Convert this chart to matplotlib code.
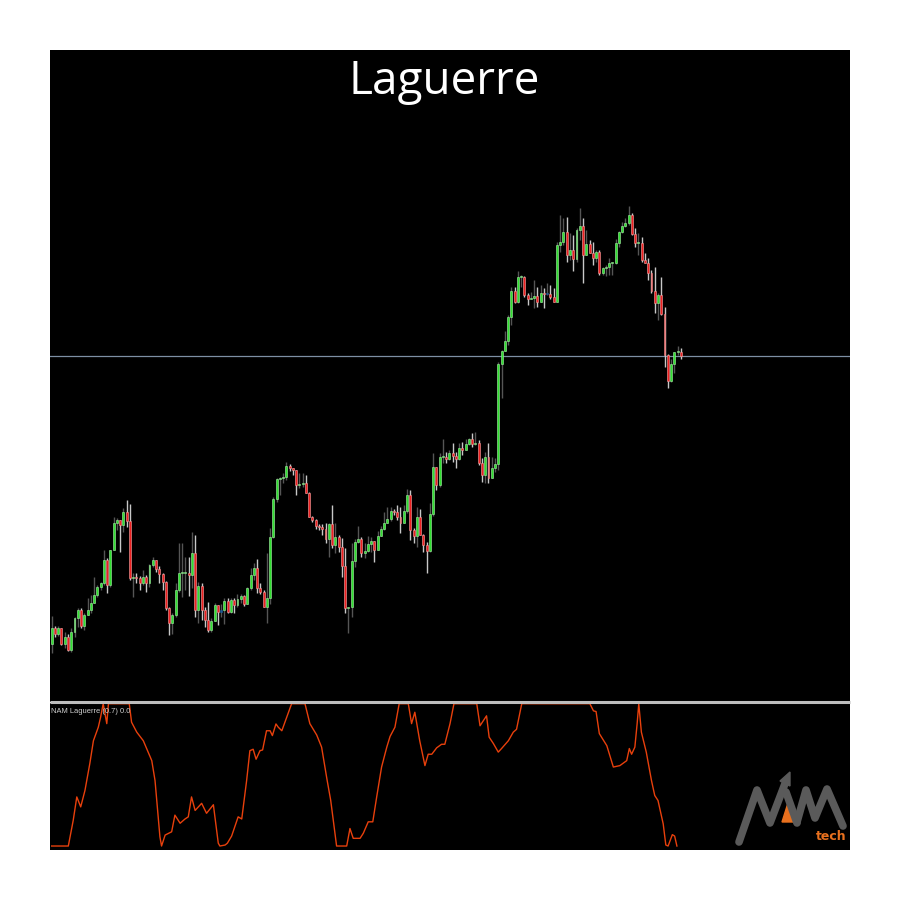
import numpy as np
import matplotlib
matplotlib.use("Agg")
import matplotlib.pyplot as plt
from matplotlib.patches import Polygon

# price data in points, one value per bar
first_open = 56
closes = [72, 66, 72, 56, 63, 50, 68, 82, 90, 74, 85, 90, 97, 105, 113, 117, 140, 115, 150, 177,
          180, 175, 188, 179, 122, 123, 122, 117, 123, 117, 135, 140, 131, 126, 118, 92, 77, 85, 110, 127,
          127, 127, 125, 147, 90, 114, 90, 80, 70, 79, 95, 88, 90, 99, 88, 100, 95, 101, 104, 96,
          112, 125, 132, 112, 108, 93, 102, 163, 201, 221, 222, 223, 234, 232, 230, 215, 216, 217, 207,
          183, 180, 174, 173, 171, 161, 176, 155, 163, 153, 134, 92, 93, 139, 158, 161, 147, 149, 156, 159,
          150, 164, 171, 177, 181, 189, 188, 183, 177, 189, 205, 170, 164, 183, 165, 155, 149, 186,
          233, 215, 243, 243, 241, 247, 244, 241, 252, 250, 256, 261, 256, 257, 237, 225, 243, 222, 232, 236,
          336, 349, 359, 383, 409, 398, 423, 423, 405, 401, 402, 404, 398, 407, 406, 406, 403, 398,
          455, 458, 468, 445, 450, 441, 470, 474, 445, 456, 447, 442, 448, 427, 432, 433, 437, 437, 457, 468,
          474, 477, 485, 466, 457, 457, 440, 437, 427, 409, 397, 405, 386, 345, 319, 336, 348, 348, 344]
highs = [84, 74, 74, 67, 68, 66, 72, 83, 92, 92, 87, 102, 105, 123, 115, 118, 150, 142, 150, 183,
         182, 178, 192, 200, 196, 127, 127, 124, 130, 125, 136, 143, 140, 134, 127, 119, 93, 87, 117, 157,
         157, 143, 143, 168, 165, 118, 117, 93, 98, 82, 97, 93, 96, 102, 102, 102, 102, 106, 106, 105,
         113, 132, 137, 141, 117, 110, 147, 172, 203, 222, 223, 227, 238, 236, 232, 229, 227, 227, 225,
         208, 184, 181, 176, 176, 177, 177, 195, 177, 165, 162, 152, 93, 157, 161, 174, 163, 157, 164, 163,
         158, 169, 174, 188, 193, 193, 191, 195, 193, 195, 211, 210, 172, 193, 191, 166, 158, 197,
         247, 233, 247, 261, 248, 250, 257, 248, 257, 258, 261, 262, 267, 268, 260, 242, 248, 257, 243, 242,
         338, 350, 369, 385, 413, 413, 429, 425, 424, 407, 408, 420, 413, 415, 412, 417, 415, 412,
         458, 485, 482, 483, 467, 465, 472, 492, 482, 470, 460, 458, 450, 450, 433, 435, 442, 438, 461, 469,
         478, 482, 494, 487, 472, 467, 463, 447, 442, 430, 433, 407, 423, 393, 346, 341, 348, 354, 352]
lows = [47, 63, 64, 55, 52, 49, 48, 63, 73, 72, 70, 88, 87, 97, 103, 110, 115, 107, 113, 150,
        170, 148, 168, 173, 120, 103, 117, 110, 115, 108, 113, 133, 128, 117, 110, 90, 65, 66, 83, 108,
        103, 110, 104, 112, 83, 77, 80, 73, 68, 68, 80, 75, 83, 76, 87, 87, 87, 93, 97, 94,
        97, 110, 120, 107, 106, 95, 77, 96, 162, 198, 205, 217, 220, 229, 225, 205, 212, 213, 207,
        183, 178, 171, 170, 165, 157, 143, 152, 147, 148, 123, 87, 67, 83, 133, 157, 143, 142, 148, 148,
        138, 153, 165, 170, 178, 179, 185, 180, 167, 177, 187, 160, 157, 153, 165, 148, 127, 148,
        184, 210, 213, 237, 237, 240, 238, 232, 240, 245, 250, 255, 253, 255, 235, 218, 217, 217, 222, 228,
        230, 302, 353, 355, 375, 397, 397, 413, 403, 395, 401, 392, 393, 398, 392, 405, 401, 398,
        398, 448, 455, 438, 440, 429, 438, 460, 417, 445, 447, 435, 438, 425, 425, 424, 425, 425, 436, 453,
        467, 473, 475, 465, 453, 445, 438, 437, 420, 407, 387, 380, 385, 333, 312, 318, 327, 345, 341]
blue_bars = [52, 152]
last_price = 344

# NAM Laguerre (0.7) readings: bar index and value
lag_bar = [0, 5.1, 6.6, 7.7, 8.9, 10.2, 11.7, 12.8, 14.3, 15.0, 15.8, 16.9, 17.4, 23.8, 24.5, 26.1,
           28.1, 30.7, 31.7, 33.2, 33.7, 34.8, 36.8, 37.8, 39.4, 40.9, 41.9, 42.9, 44, 46, 47.5, 49.6,
           51.1, 51.6, 53.2, 53.9, 55.2, 57.2, 58.3, 59.8, 60.8, 61.8, 62.7, 63.9, 64.7, 65.9, 67, 67.7,
           68.8, 69.5, 70.6, 72.1, 73.6, 77.7, 79.2, 81.3, 82.8, 84.4, 85.6, 87.4, 90.5, 91.5, 92.5,
           94.6, 95.6, 97.1, 98.5, 99.7, 101.2, 102.8, 103.8, 105.3, 106.6, 109.4, 110.4, 111.4, 112.9,
           114.5, 115.5, 116.6, 118.1, 119.6, 120.6, 122.2, 123.4, 130.4, 131.4, 133.4, 134.2, 135.5,
           137, 138, 140.1, 141.6, 142.6, 144.2, 165.1, 166.2, 167, 168, 170.3, 172.3, 174.3, 176.4,
           177.2, 177.9, 178.9, 179.6, 180.1, 180.9, 182.4, 184, 185, 186, 187.6, 188.4, 189.1, 190.4,
           191.1, 191.8]
lag_val = [0.0, 0.0, 0.18, 0.345, 0.275, 0.39, 0.58, 0.74, 0.835, 0.905, 1.0, 0.86, 1.0, 1.0, 0.87, 0.80,
           0.74, 0.60, 0.46, 0.065, 0.0, 0.077, 0.10, 0.217, 0.16, 0.19, 0.205, 0.345, 0.25, 0.30, 0.23, 0.29,
           0.02, 0.0, 0.007, 0.02, 0.07, 0.205, 0.19, 0.46, 0.67, 0.68, 0.61, 0.67, 0.675, 0.81, 0.81, 0.776,
           0.858, 0.835, 0.81, 0.905, 1.0, 1.0, 0.86, 0.78, 0.695, 0.475, 0.32, 0.0, 0.0, 0.123, 0.054,
           0.054, 0.09, 0.17, 0.17, 0.345, 0.555, 0.695, 0.77, 0.835, 1.0, 1.0, 0.86, 0.94, 0.74,
           0.565, 0.645, 0.645, 0.69, 0.715, 0.715, 0.86, 1.0, 1.0, 0.845, 0.915, 0.765, 0.72,
           0.66, 0.685, 0.74, 0.80, 0.82, 1.0, 1.0, 0.95, 0.945, 0.79, 0.705, 0.555, 0.565, 0.60,
           0.685, 0.645, 0.695, 0.86, 1.0, 0.80, 0.66, 0.46, 0.355, 0.32, 0.155, 0.007, 0.0, 0.08,
           0.07, 0.0]

closes = np.array(closes, dtype=float)
opens = np.concatenate([[first_open], closes[:-1]])
highs = np.maximum(np.array(highs, dtype=float), np.maximum(opens, closes))
lows = np.minimum(np.array(lows, dtype=float), np.minimum(opens, closes))
x = np.arange(len(closes))
bull = closes >= opens

fig = plt.figure(figsize=(9, 9), dpi=100, facecolor="white")

# main price panel
ax = fig.add_axes([50/900, 198/900, 800/900, 652/900])
ax.set_facecolor("black")
wick_col = np.where(bull, "#555555", "#c8c8c8")
ax.vlines(x, lows, highs, colors=wick_col, linewidth=1.0, zorder=2)
body_face = np.where(bull, "#2fe02f", "#ee2020")
body_edge = np.where(bull, "#a6f0a6", "#f29a9a")
for b in blue_bars:
    body_face[b] = "#1a5a9a"
    body_edge[b] = "#1a5a9a"
bottoms = np.minimum(opens, closes)
heights = np.maximum(np.abs(closes - opens), 1.2)
ax.bar(x, heights, bottom=bottoms, width=0.6, color=body_face, edgecolor=body_edge,
       linewidth=0.4, zorder=3)
ax.axhline(last_price, color="#7d8fa3", linewidth=0.9, zorder=1)
ax.set_xlim(-0.52, 244.9)
ax.set_ylim(-2, 650)
ax.set_xticks([])
ax.set_yticks([])
for s in ax.spines.values():
    s.set_visible(False)

fig.text(0.494, 0.909, "Laguerre", color="white", fontsize=33, family="Open Sans",
         ha="center", va="center")

# indicator panel
ax2 = fig.add_axes([50/900, 50/900, 800/900, 147/900])
ax2.set_facecolor("black")
ax2.plot(lag_bar, lag_val, color="#e8400c", linewidth=1.0)
ax2.set_xlim(-0.52, 244.9)
ax2.set_ylim(-0.028, 1.005)
ax2.set_xticks([])
ax2.set_yticks([])
for s in ax2.spines.values():
    s.set_visible(False)
ax2.text(0.001, 0.965, "NAM Laguerre (0.7) 0.0", transform=ax2.transAxes, color="#d0d0d0",
         fontsize=5.4, family="Liberation Sans", ha="left", va="top")

# overlay in pixel units: separator and logo
ov = fig.add_axes([0, 0, 1, 1], facecolor="none")
ov.set_xlim(0, 900)
ov.set_ylim(900, 0)
ov.axis("off")
ov.plot([50, 850], [702, 702], color="#bdbdbd", linewidth=2.2, solid_capstyle="butt")
grey = "#5a5a5a"
ov.plot([739, 757, 770, 786], [842, 790, 823, 781], color=grey, linewidth=5.5,
        solid_capstyle="round", solid_joinstyle="round")
ov.add_patch(Polygon([[790, 772], [780, 781], [790, 786]], closed=True, color=grey))
ov.plot([786, 797], [792, 823], color=grey, linewidth=5.5, solid_capstyle="round")
ov.add_patch(Polygon([[782, 822], [788, 803], [795, 822]], closed=True, color="#e8701e"))
ov.plot([797, 806, 815, 827, 843], [822, 790, 818, 789, 826], color=grey, linewidth=5.5,
        solid_capstyle="round", solid_joinstyle="round")
ov.text(847, 843, "tech", color="#e8701e", fontsize=9, fontweight="bold", ha="right",
        va="bottom", family="DejaVu Sans")

fig.savefig("out.png", dpi=100, facecolor="white")
